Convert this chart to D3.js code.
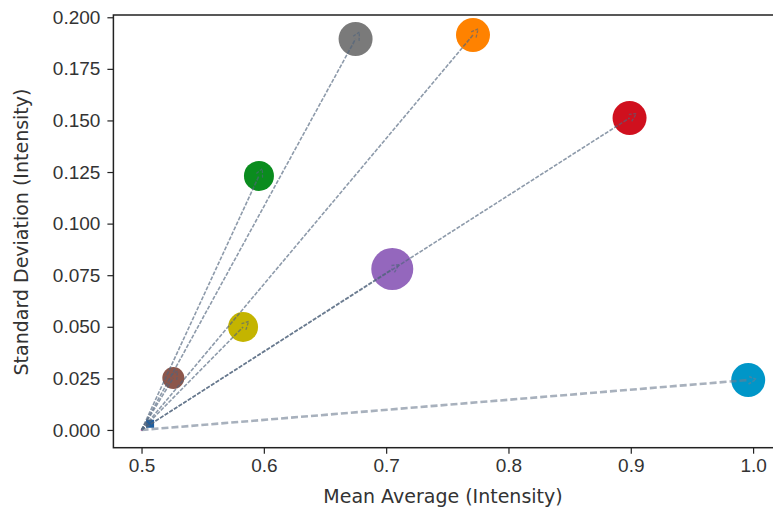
<!DOCTYPE html>
<html>
<head>
<meta charset="utf-8">
<script src="https://cdn.jsdelivr.net/npm/d3@7"></script>
<style>
  body { margin: 0; background: #fff; }
  svg { display: block; font-family: "DejaVu Sans", sans-serif; }
</style>
</head>
<body>
<div id="chart"></div>
<script>
// points (mean, std) and marker size
var names  = ["pink", "blue", "brown", "olive", "green", "purple", "gray", "orange", "red", "cyan"];
var means  = [0.500, 0.507, 0.526, 0.583, 0.596, 0.705, 0.675, 0.771, 0.899, 0.996];
var stds   = [0.000, 0.003, 0.0252, 0.0499, 0.1231, 0.0780, 0.1895, 0.1914, 0.1512, 0.0242];
var sizes  = [1, 3, 11, 15, 15, 21, 17, 17, 17, 17];
var colors = ["#e377c2", "#1f5fa0", "#8c564b", "#c4b400", "#0a8c1e", "#9467bd", "#7a7a7a", "#ff8200", "#d0101e", "#0096c8"];
// arrow origin
var startX = 0.5, startY = 0.0;

var xTicks = [0.5, 0.6, 0.7, 0.8, 0.9, 1.0];
var yTicks = [0, 0.025, 0.05, 0.075, 0.1, 0.125, 0.15, 0.175, 0.2];

var width = 773, height = 512;
var margin = {top: 15, left: 113.4, bottom: 447.7, right: 780};

var svg = d3.select("#chart").append("svg")
  .attr("width", width)
  .attr("height", height);

var x = d3.scaleLinear().domain([0.477, 1.022]).range([margin.left, margin.right]);
var y = d3.scaleLinear().domain([-0.0086, 0.2011]).range([margin.bottom, margin.top]);

// axes
var xAxis = d3.axisBottom(x).tickValues(xTicks).tickSize(6).tickPadding(5).tickFormat(d3.format(".1f"));
var yAxis = d3.axisLeft(y).tickValues(yTicks).tickSize(6).tickPadding(7).tickFormat(d3.format(".3f"));

svg.append("g").attr("transform", `translate(0,${margin.bottom})`).call(xAxis);
svg.append("g").attr("transform", `translate(${margin.left},0)`).call(yAxis);

svg.selectAll(".domain").remove();
svg.selectAll(".tick line").attr("stroke", "#222").attr("stroke-width", 1.2);
svg.selectAll(".tick text").attr("fill", "#333").style("font-size", "19px");

// frame
svg.append("rect")
  .attr("x", margin.left).attr("y", margin.top)
  .attr("width", margin.right - margin.left).attr("height", margin.bottom - margin.top)
  .attr("fill", "none").attr("stroke", "#222").attr("stroke-width", 1.5);

// dots
var pts = names.map((n, i) => ({name: n, mx: means[i], sd: stds[i], r: sizes[i], c: colors[i]}));

svg.append("g").selectAll("circle")
  .data(pts.filter(d => d.name != "blue"))
  .join("circle")
  .attr("cx", d => x(d.mx))
  .attr("cy", d => y(d.sd))
  .attr("r", d => d.r)
  .attr("fill", d => d.c);

var blue = pts.find(d => d.name == "blue");
svg.append("rect")
  .attr("x", x(blue.mx) - 4).attr("y", y(blue.sd) - 4)
  .attr("width", 8).attr("height", 8)
  .attr("fill", blue.c);

// arrows from origin to each point, head overshooting a bit
var arrowG = svg.append("g");
pts.filter(d => d.name != "pink" && d.name != "blue").forEach(function (d) {
  var x0 = x(startX), y0 = y(startY);
  var x1 = x(d.mx), y1 = y(d.sd);
  var ang = Math.atan2(y1 - y0, x1 - x0);
  var thick = d.name == "cyan";
  var hl = 8, hw = 4;
  var tx = x1 + Math.cos(ang) * hl, ty = y1 + Math.sin(ang) * hl;
  var col = thick ? "rgba(110,125,145,0.6)" : "rgba(80,100,125,0.65)";

  arrowG.append("line")
    .attr("x1", x0).attr("y1", y0)
    .attr("x2", x1).attr("y2", y1)
    .attr("stroke", col)
    .attr("stroke-width", thick ? 2.6 : 1.6)
    .attr("stroke-dasharray", thick ? "7,3" : "4,1.5");

  var px = -Math.sin(ang), py = Math.cos(ang);
  arrowG.append("path")
    .attr("d", `M${x1 + px * hw},${y1 + py * hw}L${tx},${ty}L${x1 - px * hw},${y1 - py * hw}`)
    .attr("fill", "none")
    .attr("stroke", col)
    .attr("stroke-width", thick ? 1.6 : 1.3)
    .attr("stroke-dasharray", "3,1.5");
});

// axis titles
svg.append("text")
  .attr("x", 443).attr("y", 503)
  .attr("text-anchor", "middle")
  .attr("fill", "#333")
  .style("font-size", "19px")
  .text("Mean Average (Intensity)");

svg.append("text")
  .attr("transform", "translate(28,232) rotate(-90)")
  .attr("text-anchor", "middle")
  .attr("fill", "#333")
  .style("font-size", "19px")
  .text("Standard Deviation (Intensity)");
</script>
</body>
</html>
